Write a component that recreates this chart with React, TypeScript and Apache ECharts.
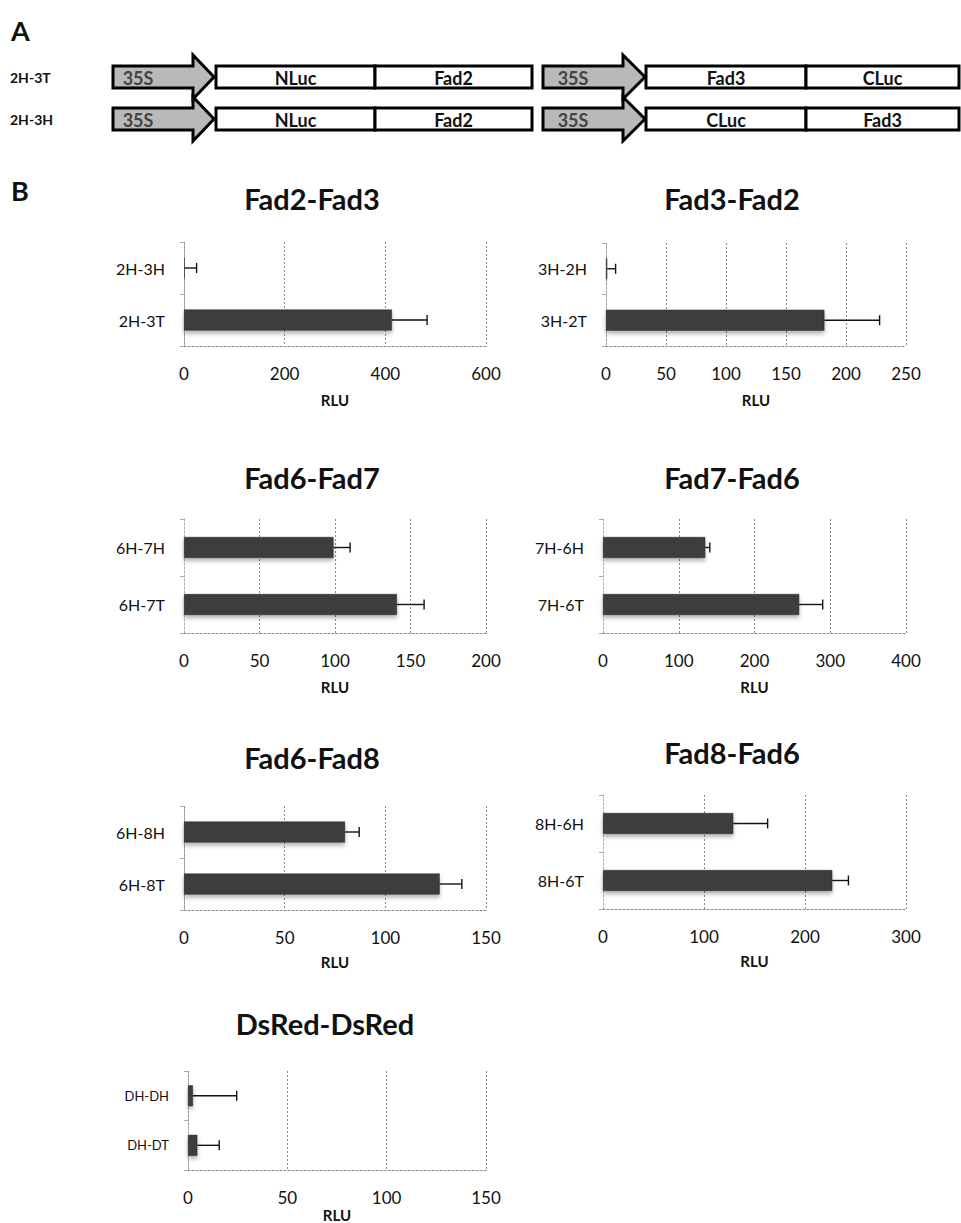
import React, { useEffect, useRef } from "react";
import * as echarts from "echarts";

// ---------- data ----------
const chartTitles = ["Fad2-Fad3", "Fad3-Fad2", "Fad6-Fad7", "Fad7-Fad6", "Fad6-Fad8", "Fad8-Fad6", "DsRed-DsRed"];
// categories listed bottom -> top
const categories = [
  ["2H-3T", "2H-3H"],
  ["3H-2T", "3H-2H"],
  ["6H-7T", "6H-7H"],
  ["7H-6T", "7H-6H"],
  ["6H-8T", "6H-8H"],
  ["8H-6T", "8H-6H"],
  ["DH-DT", "DH-DH"],
];
const meanRLU = [
  [413, 1],
  [182, 1],
  [141, 99],
  [259, 135],
  [127, 80],
  [227, 129],
  [4.7, 2.5],
];
const errorRLU = [
  [70, 24],
  [46, 7],
  [18, 11],
  [31, 6],
  [11, 7],
  [16, 34],
  [11, 22],
];
const axisMax = [600, 250, 200, 400, 150, 300, 150];
const axisInterval = [200, 50, 50, 100, 50, 100, 50];

const constructRows = ["2H-3T", "2H-3H"];
const constructParts = [
  ["35S", "NLuc", "Fad2", "35S", "Fad3", "CLuc"],
  ["35S", "NLuc", "Fad2", "35S", "CLuc", "Fad3"],
];

// ---------- layout ----------
const layouts = [
  { left: 184, top: 242, width: 302, height: 104, titleX: 312, titleY: 198, nameGap: 46, labelSize: 16 },
  { left: 606, top: 243, width: 300, height: 103, titleX: 732, titleY: 198, nameGap: 46, labelSize: 16 },
  { left: 184, top: 519, width: 302, height: 114, titleX: 312, titleY: 477, nameGap: 46, labelSize: 16 },
  { left: 603, top: 519, width: 303, height: 114, titleX: 732, titleY: 477, nameGap: 46, labelSize: 16 },
  { left: 184, top: 806, width: 302, height: 104, titleX: 312, titleY: 757, nameGap: 44, labelSize: 16 },
  { left: 603, top: 795, width: 303, height: 114, titleX: 732, titleY: 752, nameGap: 44, labelSize: 16 },
  { left: 188, top: 1071, width: 298, height: 105, titleX: 325, titleY: 1023, nameGap: 32, labelSize: 13 },
];

const FONT = "Lato, 'Open Sans', sans-serif";
const GRID_COLOR = "#8a8a8a";

function buildConstructGraphics(): any[] {
  const els: any[] = [];
  els.push({ type: "text", x: 11, y: 30, style: { text: "A", font: `bold 27px ${FONT}`, fill: "#111", verticalAlign: "middle" } });
  els.push({ type: "text", x: 11, y: 190, style: { text: "B", font: `bold 27px ${FONT}`, fill: "#111", verticalAlign: "middle" } });
  const centers = [77, 119];
  const arrowSpec = [
    { x0: 113, x1: 193, tip: 214, textX: 138 },
    { x0: 543, x1: 623, tip: 645, textX: 573 },
  ];
  const boxSpec = [
    [216, 375, 532],
    [646, 806, 959],
  ];
  constructRows.forEach((label, r) => {
    const cy = centers[r];
    els.push({
      type: "text", x: 10, y: cy,
      style: { text: label, font: `bold 14px ${FONT}`, fill: "#111", verticalAlign: "middle", align: "left" },
    });
    const parts = constructParts[r];
    arrowSpec.forEach((a, k) => {
      els.push({
        type: "polygon",
        shape: {
          points: [
            [a.x0, cy - 11], [a.x1, cy - 11], [a.x1, cy - 22], [a.tip, cy],
            [a.x1, cy + 22], [a.x1, cy + 11], [a.x0, cy + 11],
          ],
        },
        style: { fill: "#b9b9b9", stroke: "#000", lineWidth: 3, lineJoin: "miter" },
        z: 10,
      });
      els.push({
        type: "text", x: a.textX, y: cy + 1,
        style: { text: parts[k * 3], font: `bold 18px ${FONT}`, fill: "#444", align: "center", verticalAlign: "middle" },
        z: 11,
      });
      const b = boxSpec[k];
      for (let j = 0; j < 2; j++) {
        els.push({
          type: "rect",
          shape: { x: b[j], y: cy - 11, width: b[j + 1] - b[j], height: 22 },
          style: { fill: "#fff", stroke: "#000", lineWidth: 3 },
          z: 10,
        });
        els.push({
          type: "text", x: (b[j] + b[j + 1]) / 2, y: cy + 1,
          style: { text: parts[k * 3 + 1 + j], font: `bold 18px ${FONT}`, fill: "#111", align: "center", verticalAlign: "middle" },
          z: 11,
        });
      }
    });
  });
  return els;
}

function buildOption(): any {
  const grid: any[] = [];
  const xAxis: any[] = [];
  const yAxis: any[] = [];
  const series: any[] = [];
  const graphic: any[] = buildConstructGraphics();

  chartTitles.forEach((title, i) => {
    const L = layouts[i];
    grid.push({ left: L.left, top: L.top, width: L.width, height: L.height, containLabel: false });
    xAxis.push({
      type: "value",
      gridIndex: i,
      min: 0,
      max: axisMax[i],
      interval: axisInterval[i],
      name: "RLU",
      nameLocation: "middle",
      nameGap: L.nameGap,
      nameTextStyle: { fontFamily: FONT, fontWeight: "bold", fontSize: 15, color: "#111" },
      axisLine: { show: true, lineStyle: { color: GRID_COLOR, type: [2, 2], width: 1 } },
      axisTick: { show: false },
      axisLabel: { fontFamily: FONT, fontSize: 17, color: "#111", margin: 19 },
      splitLine: { show: true, lineStyle: { color: GRID_COLOR, type: [2, 2], width: 1 } },
    });
    yAxis.push({
      type: "category",
      gridIndex: i,
      data: categories[i],
      axisLine: { show: true, lineStyle: { color: "#aaa", type: [2, 2], width: 1 } },
      axisTick: { show: true, length: 4, lineStyle: { color: "#aaa" } },
      axisLabel: { fontFamily: FONT, fontSize: L.labelSize, color: "#111", margin: 19 },
      splitLine: { show: false },
    });
    series.push({
      type: "bar",
      xAxisIndex: i,
      yAxisIndex: i,
      data: meanRLU[i],
      barWidth: 21,
      itemStyle: {
        color: "#3c3c3c",
        borderColor: "#2a2a2a",
        borderWidth: 0.5,
        shadowColor: "rgba(0,0,0,0.3)",
        shadowBlur: 4,
        shadowOffsetY: 3,
      },
      z: 3,
    });
    series.push({
      type: "custom",
      xAxisIndex: i,
      yAxisIndex: i,
      encode: { x: [0, 2], y: 1 },
      data: meanRLU[i].map((m, c) => [m, c, m + errorRLU[i][c]]),
      renderItem: (params: any, api: any) => {
        const p0 = api.coord([api.value(0), api.value(1)]);
        const p1 = api.coord([api.value(2), api.value(1)]);
        const st = { stroke: "#111", lineWidth: 1.4 };
        return {
          type: "group",
          children: [
            { type: "line", shape: { x1: p0[0], y1: p0[1], x2: p1[0], y2: p1[1] }, style: st },
            { type: "line", shape: { x1: p1[0], y1: p1[1] - 5, x2: p1[0], y2: p1[1] + 5 }, style: st },
          ],
        };
      },
      z: 4,
    });
    graphic.push({
      type: "text",
      x: L.titleX,
      y: L.titleY,
      style: { text: title, font: `bold 29px ${FONT}`, fill: "#111", align: "center", verticalAlign: "middle" },
    });
  });

  return {
    animation: false,
    backgroundColor: "#ffffff",
    grid,
    xAxis,
    yAxis,
    series,
    graphic,
  };
}

export default function App() {
  const ref = useRef<HTMLDivElement>(null);
  useEffect(() => {
    if (!ref.current) return;
    const chart = echarts.init(ref.current, undefined, { renderer: "svg" });
    chart.setOption(buildOption());
    return () => chart.dispose();
  }, []);
  return (
    <div
      ref={ref}
      style={{ position: "absolute", left: 0, top: 0, width: 961, height: 1223, background: "#fff" }}
    />
  );
}
